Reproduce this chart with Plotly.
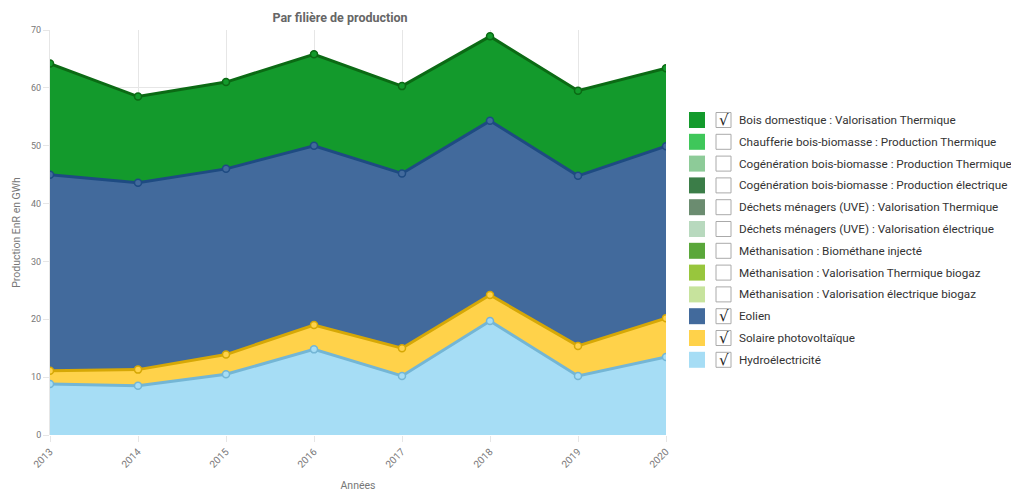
import plotly.graph_objects as go

# ── Data ─────────────────────────────────────────────────────────────────────
years = [2013, 2014, 2015, 2016, 2017, 2018, 2019, 2020]

hydro = [8.8, 8.5, 10.5, 14.8, 10.2, 19.7, 10.2, 13.5]
solaire = [2.3, 2.8, 3.4, 4.2, 4.8, 4.5, 5.2, 6.7]
eolien = [33.9, 32.3, 32.1, 31.0, 30.2, 30.1, 29.4, 29.7]
bois = [19.2, 14.9, 15.0, 15.8, 15.1, 14.6, 14.7, 13.5]

legend_names = [
    "Bois domestique : Valorisation Thermique",
    "Chaufferie bois-biomasse : Production Thermique",
    "Cogénération bois-biomasse : Production Thermique",
    "Cogénération bois-biomasse : Production électrique",
    "Déchets ménagers (UVE) : Valorisation Thermique",
    "Déchets ménagers (UVE) : Valorisation électrique",
    "Méthanisation : Biométhane injecté",
    "Méthanisation : Valorisation Thermique biogaz",
    "Méthanisation : Valorisation électrique biogaz",
    "Eolien",
    "Solaire photovoltaïque",
    "Hydroélectricité",
]
legend_colors = [
    "#139A2C", "#3FC75A", "#8DCB98", "#3B7D48", "#6B8C70", "#B8D9BE",
    "#5AA73A", "#98C63D", "#C7E39D", "#426A9C", "#FFD24A", "#A6DDF5",
]
legend_checked = [True, False, False, False, False, False,
                  False, False, False, True, True, True]

# ── Style ────────────────────────────────────────────────────────────────────
_FONT = "Roboto, 'Open Sans', sans-serif"
_GRID = "#E6E6E6"
_TXT_SEC = "#666666"
OFF = 8                      # page body margin
W, H = 1019 - OFF, 492 - OFF
L, R, T, B = 50 - OFF, 666 - OFF, 30 - OFF, 435 - OFF  # plot area in figure px


def px_x(x):
    return (x - OFF - L) / (R - L)


def px_y(y):
    return (B - (y - OFF)) / (B - T)


series = [
    ("Hydroélectricité", hydro, "#A6DDF5", "#74B6D5"),
    ("Solaire photovoltaïque", solaire, "#FFD24A", "#D6A806"),
    ("Eolien", eolien, "#426A9C", "#1E4B82"),
    ("Bois domestique : Valorisation Thermique", bois, "#139A2C", "#0B6A14"),
]

fig = go.Figure()
for name, vals, fill, line in series:
    fig.add_trace(go.Scatter(
        x=years, y=vals, name=name,
        stackgroup="one",
        mode="lines+markers",
        fillcolor=fill,
        line=dict(color=line, width=3),
        marker=dict(size=7, color=fill, line=dict(color=line, width=1.5)),
        showlegend=False,
    ))

# ── Custom legend with checkboxes ────────────────────────────────────────────
shapes = []
annotations = []
row0, step = 120, 21.8
for i, (nm, col, chk) in enumerate(zip(legend_names, legend_colors, legend_checked)):
    cy = row0 + i * step
    shapes.append(dict(
        type="rect", xref="paper", yref="paper",
        x0=px_x(689), x1=px_x(705), y0=px_y(cy + 8), y1=px_y(cy - 8),
        fillcolor=col, line=dict(width=0), layer="above",
    ))
    shapes.append(dict(
        type="rect", xref="paper", yref="paper",
        x0=px_x(716), x1=px_x(731), y0=px_y(cy + 7.5), y1=px_y(cy - 7.5),
        fillcolor="white", line=dict(color="#AAAAAA", width=1), layer="above",
    ))
    if chk:
        annotations.append(dict(
            xref="paper", yref="paper", x=px_x(723.5), y=px_y(cy),
            text="√", showarrow=False, xanchor="center", yanchor="middle",
            font=dict(family="DejaVu Sans", size=15, color="#222222"),
        ))
    annotations.append(dict(
        xref="paper", yref="paper", x=px_x(737), y=px_y(cy),
        text=nm, showarrow=False, xanchor="left", yanchor="middle",
        font=dict(family=_FONT, size=11.7, color="#333333"),
    ))

fig.update_layout(
    width=W, height=H,
    paper_bgcolor="white", plot_bgcolor="white",
    margin=dict(l=L, r=W - R, t=T, b=H - B, autoexpand=False),
    font=dict(family=_FONT, color=_TXT_SEC, size=10),
    title=dict(
        text="<b>Par filière de production</b>",
        x=(340 - OFF) / W, xanchor="center",
        y=1 - (18 - OFF) / H, yanchor="middle",
        font=dict(family=_FONT, size=12.5, color="#666666"),
    ),
    xaxis=dict(
        range=[2013, 2020], tickvals=years, tickangle=-45,
        showgrid=True, gridcolor=_GRID, zeroline=False,
        ticks="outside", ticklen=6, tickcolor=_GRID,
        tickfont=dict(size=10, color="#777777"),
        title=dict(text="Années", font=dict(size=10.5, color="#777777"), standoff=15),
        showline=False, automargin=False,
    ),
    yaxis=dict(
        range=[0, 70], dtick=10,
        showgrid=True, gridcolor=_GRID, zeroline=False,
        ticks="outside", ticklen=6, tickcolor=_GRID,
        tickfont=dict(size=9, color="#777777"),
        title=dict(text="Production EnR en GWh", font=dict(size=10.5, color="#777777"),
                   standoff=8),
        showline=True, linecolor=_GRID, automargin=False,
    ),
    shapes=shapes,
    annotations=annotations,
    showlegend=False,
)

fig.write_html("out.html")
